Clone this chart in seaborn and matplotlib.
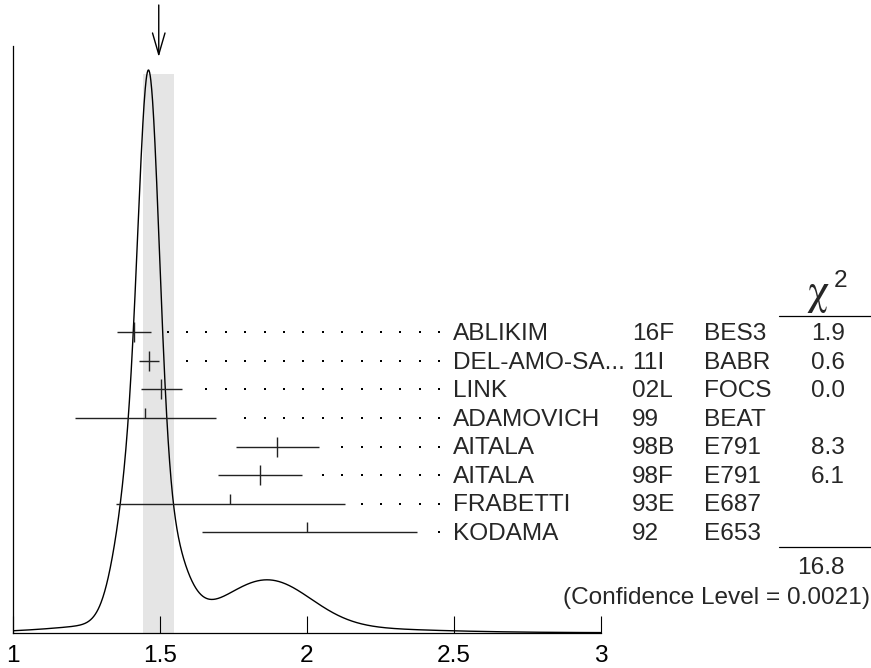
import numpy as np
import pandas as pd
import matplotlib
matplotlib.use("Agg")
import matplotlib.pyplot as plt
import seaborn as sns

# ---------------- data ----------------
authors = ["ABLIKIM", "DEL-AMO-SA...", "LINK", "ADAMOVICH", "AITALA", "AITALA", "FRABETTI", "KODAMA"]
years = ["16F", "11I", "02L", "99", "98B", "98F", "93E", "92"]
experiments = ["BES3", "BABR", "FOCS", "BEAT", "E791", "E791", "E687", "E653"]
values = [1.411, 1.463, 1.505, 1.45, 1.90, 1.84, 1.74, 2.00]
err_lo = [0.057, 0.035, 0.069, 0.240, 0.142, 0.141, 0.388, 0.357]
err_hi = [0.059, 0.035, 0.069, 0.240, 0.141, 0.142, 0.390, 0.376]
used_in_fit = [True, True, True, False, True, True, False, False]
chi2_values = ["1.9", "0.6", "0.0", "", "8.3", "6.1", "", ""]
chi2_total = "16.8"
confidence_level = "0.0021"
average = 1.496
average_err = 0.053
x_ticks = [1, 1.5, 2, 2.5, 3]
x_tick_labels = ["1", "1.5", "2", "2.5", "3"]

df = pd.DataFrame({
    "author": authors, "year": years, "exp": experiments,
    "value": values, "lo": err_lo, "hi": err_hi,
    "used": used_in_fit, "chi2": chi2_values,
})

# ---------------- layout (pixels) ----------------
W, H = 871, 668
X0_PX, X1_PX = 13.0, 600.7
BASE_PX = 632.7
ROW0 = 300.4          # height of first row above baseline
ROW_STEP = 28.57
PEAK_H = 562.7
FS = 17.6
FONT = ["Liberation Sans", "DejaVu Sans"]

sns.set_style("white")
plt.rcParams["font.family"] = FONT

fig = plt.figure(figsize=(W / 100, H / 100), dpi=100)
ax = fig.add_axes([X0_PX / W, (H - BASE_PX) / H, (X1_PX - X0_PX) / W, BASE_PX / H])
ax.set_xlim(1, 3)
ax.set_ylim(0, BASE_PX)


def fx(px):
    return px / W


def fy(py):
    return 1 - py / H


# ideogram: each measurement is a Gaussian with area proportional to 1/sigma
xs = np.linspace(1, 3, 2001)
ideo = np.zeros_like(xs)
for v, lo, hi in zip(df["value"], df["lo"], df["hi"]):
    s = np.where(xs < v, lo, hi)
    sbar = 0.5 * (lo + hi)
    ideo += (1.0 / sbar) * np.exp(-0.5 * ((xs - v) / s) ** 2) / (np.sqrt(2 * np.pi) * sbar)
ideo = ideo / ideo.max() * PEAK_H
curve = pd.DataFrame({"x": xs, "y": ideo})

# average band
ax.axvspan(average - average_err, average + average_err, ymin=0, ymax=558.7 / BASE_PX,
           color="#e5e5e5", lw=0, zorder=0)

sns.lineplot(data=curve, x="x", y="y", ax=ax, color="black", lw=1.0, zorder=3)

# arrow marking the average
ax.annotate("", xy=(average, BASE_PX - 57), xytext=(average, BASE_PX - 5),
            arrowprops=dict(arrowstyle="->,head_length=1.55,head_width=0.45",
                            color="black", lw=1.0, shrinkA=0, shrinkB=0),
            annotation_clip=False)

# measurements
dot_grid = np.linspace(1.5264, 2.4505, 15)
for i, r in df.iterrows():
    y = ROW0 - i * ROW_STEP
    ax.hlines(y, r["value"] - r["lo"], r["value"] + r["hi"], color="#222222", lw=1.0, zorder=4)
    if r["used"]:
        ax.vlines(r["value"], y - 10, y + 10, color="#222222", lw=1.0, zorder=4)
    else:
        ax.vlines(r["value"], y, y + 10, color="#222222", lw=1.0, zorder=4)
    dx = dot_grid[dot_grid > r["value"] + r["hi"] + 0.045]
    ax.scatter(dx, np.full(dx.shape, y), s=1.1, color="black", marker="s", lw=0, zorder=4,
               clip_on=False)
    py = BASE_PX - y + 7.7
    fig.text(fx(453.3), fy(py), r["author"], fontsize=FS, ha="left", va="baseline")
    fig.text(fx(631.7), fy(py), r["year"], fontsize=FS, ha="left", va="baseline")
    fig.text(fx(704.0), fy(py), r["exp"], fontsize=FS, ha="left", va="baseline")
    if r["chi2"]:
        fig.text(fx(845.0), fy(py), r["chi2"], fontsize=FS, ha="right", va="baseline")

# chi^2 header and totals
fig.text(fx(806.5), fy(304.0), "\u03c7", fontsize=32, family=["STIXGeneral"],
         ha="left", va="baseline")
fig.text(fx(833.5), fy(287.3), "2", fontsize=FS, ha="left", va="baseline")
for ly in (316.0, 546.5):
    fig.add_artist(plt.Line2D([fx(779.3), fx(871)], [fy(ly), fy(ly)], color="black", lw=0.9))
fig.text(fx(845.0), fy(574.5), chi2_total, fontsize=FS, ha="right", va="baseline")
fig.text(fx(870.0), fy(604.0), f"(Confidence Level = {confidence_level})", fontsize=FS,
         ha="right", va="baseline")

# axes styling
for s in ("top", "right"):
    ax.spines[s].set_visible(False)
ax.spines["left"].set_bounds(0, BASE_PX - 46)
for s in ("left", "bottom"):
    ax.spines[s].set_linewidth(0.9)
    ax.spines[s].set_color("black")
ax.set_xticks(x_ticks, x_tick_labels)
ax.tick_params(axis="x", direction="in", length=12.2, width=0.8, pad=9,
               labelsize=FS, colors="black", bottom=True)
ax.tick_params(axis="y", left=False, labelleft=False)
ax.set_xlabel("")
ax.set_ylabel("")
ax.grid(False)

fig.savefig("out.png", dpi=100)
